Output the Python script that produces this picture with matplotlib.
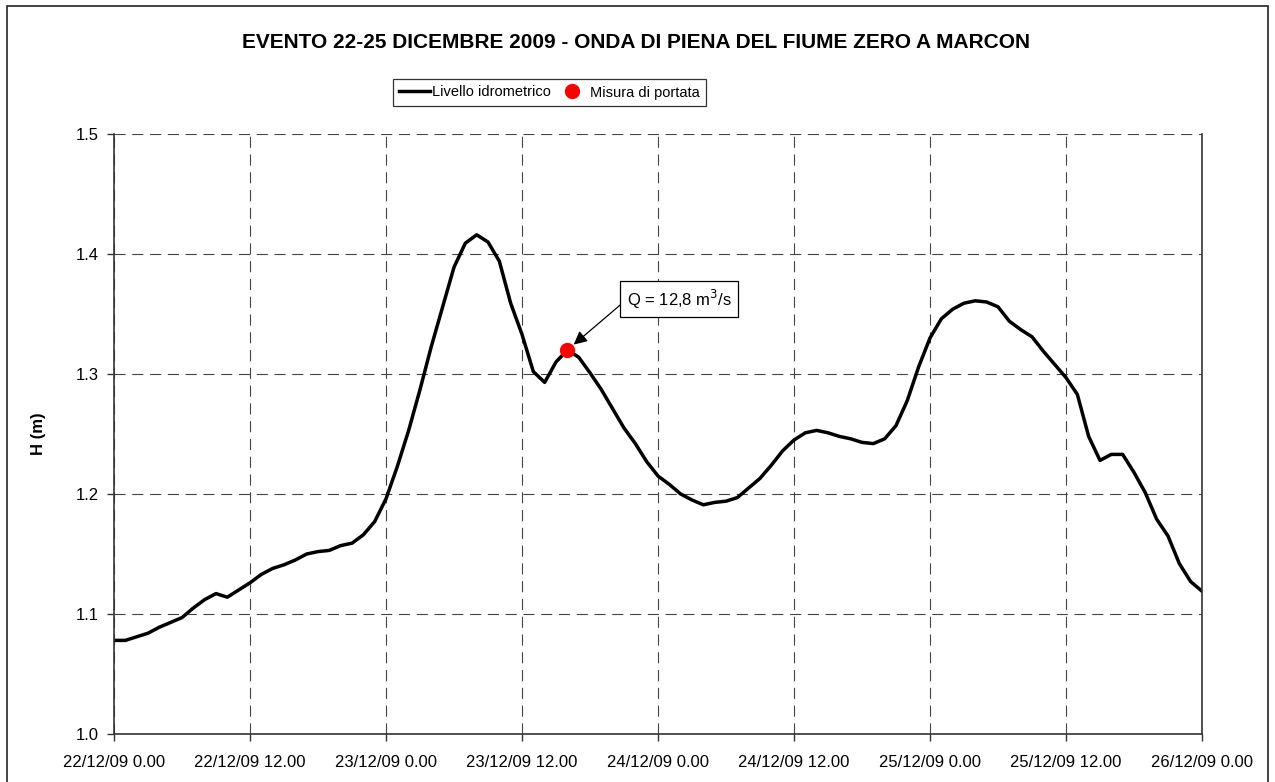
import pandas as pd
import matplotlib
matplotlib.use('Agg')
import matplotlib.pyplot as plt
import matplotlib.dates as mdates
from matplotlib.ticker import FuncFormatter
from matplotlib.patches import Rectangle

plt.rcParams['font.family'] = ['Liberation Sans', 'DejaVu Sans']

# hourly water level, starting 22/12/2009 00:00
start = '2009-12-22 00:00'
levels = [1.078, 1.078, 1.081, 1.084, 1.089, 1.093, 1.097, 1.105, 1.112, 1.117,
          1.114, 1.120, 1.126, 1.133, 1.138, 1.141, 1.145, 1.150, 1.152, 1.153,
          1.157, 1.159, 1.166, 1.177, 1.196, 1.223, 1.253, 1.287, 1.323, 1.356,
          1.389, 1.409, 1.416, 1.410, 1.394, 1.359, 1.333, 1.302, 1.293, 1.310,
          1.320, 1.314, 1.301, 1.287, 1.271, 1.255, 1.242, 1.227, 1.215, 1.208,
          1.200, 1.195, 1.191, 1.193, 1.194, 1.197, 1.205, 1.213, 1.224, 1.236,
          1.245, 1.251, 1.253, 1.251, 1.248, 1.246, 1.243, 1.242, 1.246, 1.257,
          1.278, 1.306, 1.330, 1.346, 1.354, 1.359, 1.361, 1.360, 1.356, 1.344,
          1.337, 1.331, 1.319, 1.308, 1.297, 1.283, 1.248, 1.228, 1.233, 1.233,
          1.218, 1.201, 1.179, 1.165, 1.142, 1.127, 1.119, 1.112]

# discharge measurement
meas_time = pd.Timestamp('2009-12-23 16:00')
meas_level = 1.32
meas_label = 'Q = 12,8 m$^3$/s'

title = 'EVENTO 22-25 DICEMBRE 2009 - ONDA DI PIENA DEL FIUME ZERO A MARCON'

times = pd.date_range(start, periods=len(levels), freq='h')

fig = plt.figure(figsize=(12.75, 7.82), dpi=100)
ax = fig.add_axes([114/1275, 1 - 734/782, (1202 - 114)/1275, (734 - 134)/782])

ax.plot(times, levels, color='black', lw=2.5, label='Livello idrometrico')
ax.plot([meas_time], [meas_level], 'o', color='#ff0000', ms=10, lw=0,
        label='Misura di portata', zorder=5)

ax.annotate(meas_label, xy=(meas_time, meas_level),
            xytext=(pd.Timestamp('2009-12-23 21:15'), 1.3622),
            fontsize=12, ha='left', va='center',
            bbox=dict(boxstyle='square,pad=0.38', fc='white', ec='black', lw=0.9),
            arrowprops=dict(arrowstyle='-|>', color='black', lw=0.9,
                            mutation_scale=20, shrinkA=0, shrinkB=6,
                            relpos=(0, 0.5)))

ax.set_xlim(pd.Timestamp('2009-12-22 00:00'), pd.Timestamp('2009-12-26 00:00'))
ax.set_ylim(1.0, 1.5)
ax.set_yticks([1.0, 1.1, 1.2, 1.3, 1.4, 1.5])
ax.yaxis.set_major_formatter(FuncFormatter(lambda v, p: f"{v:.1f}"))
ax.xaxis.set_major_locator(mdates.HourLocator(byhour=[0, 12]))

def date_fmt(x, pos):
    d = mdates.num2date(x)
    return f"{d:%d/%m/%y} {d.hour}.{d:%M}"

ax.xaxis.set_major_formatter(FuncFormatter(date_fmt))
ax.tick_params(axis='both', labelsize=12, direction='out', length=5,
               width=1, color='#333333')
ax.tick_params(axis='x', pad=10)
ax.tick_params(axis='y', pad=6)

ax.grid(True, color='#444444', lw=0.8, ls=(0, (10, 6)))
ax.set_axisbelow(True)
ax.spines['top'].set_visible(False)
for s in ['left', 'bottom', 'right']:
    ax.spines[s].set_color('#333333')
    ax.spines[s].set_linewidth(1.2)

ax.set_ylabel('H (m)', fontsize=12, fontweight='bold', labelpad=21)

fig.text(636/1275, 1 - 43/782, title, ha='center', va='center',
         fontsize=15, fontweight='bold')

leg = fig.legend(loc='center', bbox_to_anchor=(549.5/1275, 1 - 92.5/782),
                 ncol=2, frameon=True, fancybox=False,
                 prop={'family': 'Liberation Sans', 'size': 10.5},
                 edgecolor='black', handlelength=2.1, columnspacing=0.4,
                 handletextpad=0.15, borderpad=0.45, borderaxespad=0)
leg.get_frame().set_linewidth(0.9)

# chart area border
fig.patches.append(Rectangle((7/1275, -0.05), (1268 - 7)/1275, 1.05 - 6/782,
                             transform=fig.transFigure, fill=False,
                             ec='#222222', lw=1.2))

fig.savefig('out.png', dpi=100)
